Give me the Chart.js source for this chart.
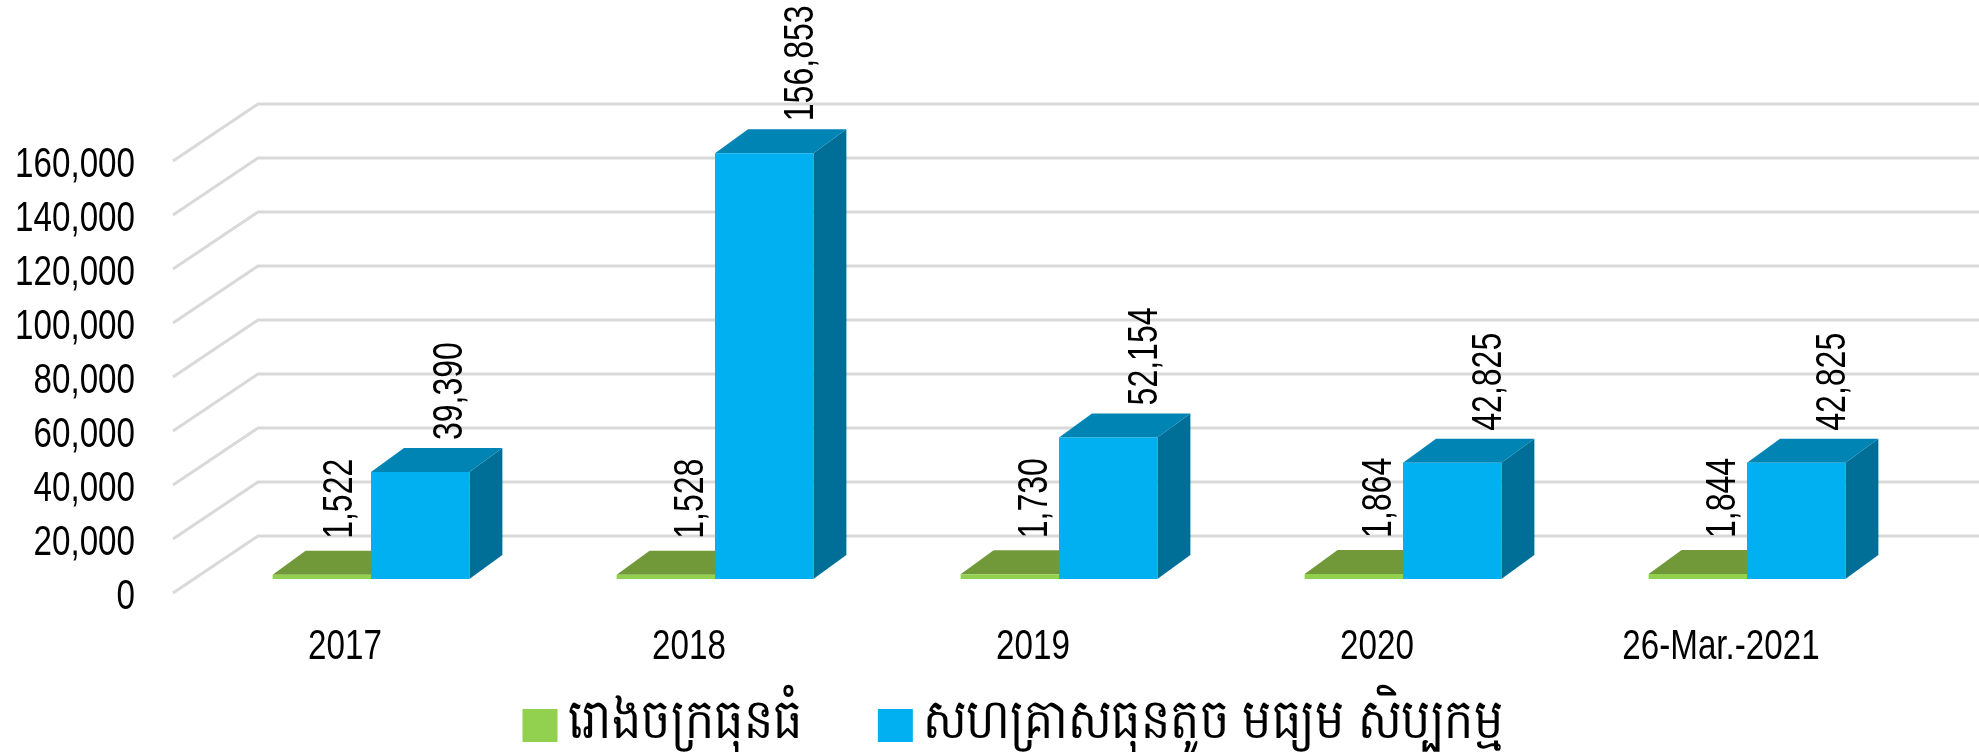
<!DOCTYPE html>
<html><head><meta charset="utf-8">
<style>html,body{margin:0;padding:0;background:#fff}canvas{display:block}</style>
<script src="https://cdn.jsdelivr.net/npm/chart.js@4/dist/chart.umd.min.js"></script>
</head><body><canvas id="c" width="1979" height="752"></canvas>
<script>
const categories = ['2017','2018','2019','2020','26-Mar.-2021'];
const largeFactories = [1522,1528,1730,1864,1844];
const smeHandicraft = [39390,156853,52154,42825,42825];
const seriesNames = ['រោងចក្រធុនធំ','សហគ្រាសធុនតូច មធ្យម សិប្បកម្ម'];
const yTicksMax = 160000, yTickStep = 20000;

const FONT = "'Liberation Sans','Noto Sans',sans-serif";
const WALL_DX = 85, WALL_DY = 57, BAR_DX = 33, BAR_DY = 24;
const TICK_NARROW = 0.79, LABEL_NARROW = 0.745, TEXT_NUDGE = 4, LEGEND_NUDGE = -3;
const LEGEND_FONT = '56px '+FONT, LEGEND_TEXT_SHIFT = -5, LEGEND_EXTRA = [80,-107];
const FIRST_COLUMN_LABEL_SHIFT = -7;
const faces = [
  {front:'#92D050', top:'#71993A', side:'#5F8530', lx:21, ly:-36},
  {front:'#00B0F0', top:'#0084B4', side:'#006F98', lx:33, ly:-32}
];
const fmt = v => Number(v).toLocaleString('en-US');

// The reference uses a narrow face: condense all canvas text horizontally.
const canvas = document.getElementById('c');
const ctx0 = canvas.getContext('2d');
let narrow = TICK_NARROW;
const rawFill = ctx0.fillText.bind(ctx0), rawMeasure = ctx0.measureText.bind(ctx0);
ctx0.fillText = function(text,x,y){
  const s = seriesNames.indexOf(text);
  ctx0.save();
  if(s>=0) ctx0.font = LEGEND_FONT;
  ctx0.translate(x + (s>=0 ? LEGEND_TEXT_SHIFT : 0), y + (s>=0 ? LEGEND_NUDGE : TEXT_NUDGE));
  ctx0.scale(s>=0 ? 0.82 : narrow,1);
  rawFill(text,0,0);
  ctx0.restore();
};
ctx0.measureText = function(text){
  const s = seriesNames.indexOf(text);
  ctx0.save();
  if(s>=0) ctx0.font = LEGEND_FONT;
  const m = rawMeasure(text);
  ctx0.restore();
  return {width: s>=0 ? m.width*0.82 + LEGEND_TEXT_SHIFT + LEGEND_EXTRA[s] : m.width*narrow};
};

const perspective = {
  id:'perspective',
  beforeDatasetsDraw(chart){
    const {ctx, chartArea, scales:{y}} = chart;
    ctx.save();
    ctx.strokeStyle='#D9D9D9'; ctx.lineWidth=3; ctx.lineJoin='round';
    const left = chartArea.left-26;
    y.ticks.forEach(t=>{
      const p = y.getPixelForValue(t.value);
      ctx.beginPath();
      ctx.moveTo(left,p);
      ctx.lineTo(left+WALL_DX,p-WALL_DY);
      ctx.lineTo(chart.width,p-WALL_DY);
      ctx.stroke();
    });
    chart.data.datasets.forEach((ds,i)=>{
      const f = faces[i];
      chart.getDatasetMeta(i).data.forEach(b=>{
        const l=b.x-b.width/2, r=b.x+b.width/2, t=b.y, bt=b.base;
        ctx.fillStyle=f.side;
        ctx.beginPath();ctx.moveTo(r,t);ctx.lineTo(r+BAR_DX,t-BAR_DY);ctx.lineTo(r+BAR_DX,bt-BAR_DY);ctx.lineTo(r,bt);ctx.closePath();ctx.fill();
        ctx.fillStyle=f.top;
        ctx.beginPath();ctx.moveTo(l,t);ctx.lineTo(l+BAR_DX,t-BAR_DY);ctx.lineTo(r+BAR_DX,t-BAR_DY);ctx.lineTo(r,t);ctx.closePath();ctx.fill();
      });
    });
    ctx.restore();
  },
  afterDatasetsDraw(chart){
    const {ctx} = chart;
    ctx.save();
    narrow = LABEL_NARROW;
    ctx.fillStyle='#000'; ctx.font='43px '+FONT; ctx.textAlign='left'; ctx.textBaseline='middle';
    chart.data.datasets.forEach((ds,i)=>{
      const f=faces[i];
      chart.getDatasetMeta(i).data.forEach((b,j)=>{
        ctx.save();
        ctx.translate(b.x+f.lx+(j===0?FIRST_COLUMN_LABEL_SHIFT:0),b.y+f.ly);
        ctx.rotate(-Math.PI/2);
        ctx.fillText(fmt(ds.data[j]),0,0);
        ctx.restore();
      });
    });
    narrow = TICK_NARROW;
    ctx.restore();
  }
};

new Chart(canvas,{
  type:'bar',
  plugins:[perspective],
  data:{labels:categories,datasets:[
    {label:seriesNames[0],data:largeFactories,backgroundColor:faces[0].front,yAxisID:'yBar',clip:false,categoryPercentage:.572,barPercentage:1},
    {label:seriesNames[1],data:smeHandicraft,backgroundColor:faces[1].front,yAxisID:'yBar',clip:false,categoryPercentage:.572,barPercentage:1}
  ]},
  options:{
    responsive:false,animation:false,
    layout:{padding:{top:161,right:60,left:0,bottom:0}},
    plugins:{
      tooltip:{enabled:false},
      legend:{position:'bottom',align:'center',
        title:{display:true,text:'',font:{size:10,lineHeight:1},padding:{top:0,bottom:26}},
        labels:{boxWidth:35,boxHeight:33,padding:-5,color:'#000',font:{family:FONT,size:30,lineHeight:1}}}
    },
    scales:{
      x:{grid:{display:false},border:{display:false},
        ticks:{color:'#000',font:{family:FONT,size:42},padding:17,labelOffset:-26,maxRotation:0,autoSkip:false},
        afterFit(s){s.height=s.chart.legend?159-s.chart.legend.height:85;}},
      y:{position:'left',min:0,max:yTicksMax,grid:{display:false},border:{display:false},
        ticks:{stepSize:yTickStep,color:'#000',font:{family:FONT,size:42},padding:56,callback:v=>fmt(v)},
        afterFit(s){s.width=199;}},
      yBar:{display:false,position:'left',min:-5162,max:153983,bounds:'data'}
    }
  }
});
</script></body></html>
